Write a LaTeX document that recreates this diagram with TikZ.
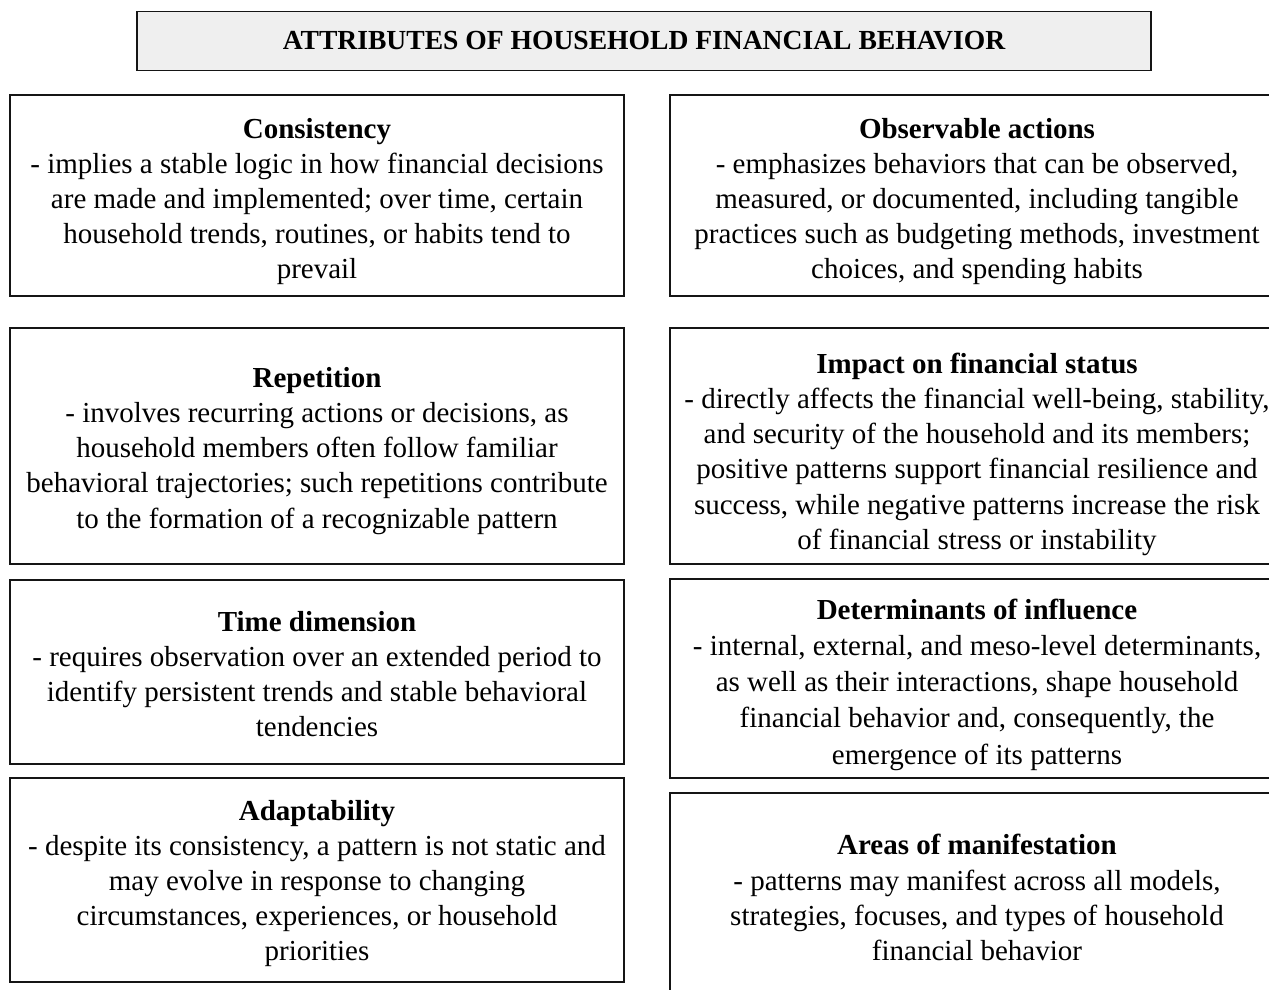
\documentclass[tikz,border=0pt]{standalone}
\usepackage{fontspec}
\setmainfont{Liberation Serif}
\usepackage{xcolor}
\definecolor{FrameBlack}{HTML}{151515}
\definecolor{HeadGray}{HTML}{EFEFEF}
\newlength{\pxu}
\setlength{\pxu}{0.02cm}
% bold heading line of a box, with a taller strut so the text sits a bit lower
\newcommand{\attrhead}[2][18.5pt]{\rule{0pt}{#1}\textbf{#2}}
\tikzset{
  headbox/.style={draw=FrameBlack,fill=HeadGray,line width=1.1pt,align=center,
    minimum width=1014\pxu,minimum height=59\pxu,
    font=\fontsize{15.7}{19}\selectfont\bfseries},
  attrbox/.style={draw=FrameBlack,line width=1.1pt,align=center,inner sep=0pt,
    minimum width=614\pxu,font=\fontsize{16.5}{20}\selectfont}
}

\begin{document}
\begin{tikzpicture}[x=1\pxu,y=-1\pxu]
  \useasboundingbox (0,0) rectangle (1269,990);
  \clip (0,0) rectangle (1269,990);
  \node[headbox] (title) at (644,41) {ATTRIBUTES OF HOUSEHOLD FINANCIAL BEHAVIOR};
  % left column
  \node[attrbox,minimum height=201\pxu] (consistency) at (317,195.5)
    {\attrhead{Consistency}\\
     - implies a stable logic in how financial decisions\\
     are made and implemented; over time, certain\\
     household trends, routines, or habits tend to\\
     prevail};
  \node[attrbox,minimum height=236\pxu] (repetition) at (317,446)
    {\attrhead[17pt]{Repetition}\\
     - involves recurring actions or decisions, as\\
     household members often follow familiar\\
     behavioral trajectories; such repetitions contribute\\
     to the formation of a recognizable pattern};
  \node[attrbox,minimum height=184\pxu] (timedim) at (317,672)
    {\attrhead[14pt]{Time dimension}\\
     - requires observation over an extended period to\\
     identify persistent trends and stable behavioral\\
     tendencies};
  \node[attrbox,minimum height=204\pxu] (adapt) at (317,880)
    {\attrhead[15.5pt]{Adaptability}\\
     - despite its consistency, a pattern is not static and\\
     may evolve in response to changing\\
     circumstances, experiences, or household\\
     priorities};
  % right column, runs past the page edge
  \node[attrbox,minimum height=201\pxu] (observable) at (977,195.5)
    {\attrhead{Observable actions}\\
     - emphasizes behaviors that can be observed,\\
     measured, or documented, including tangible\\
     practices such as budgeting methods, investment\\
     choices, and spending habits};
  \node[attrbox,minimum height=236\pxu] (impact) at (977,446)
    {\attrhead[21pt]{Impact on financial status}\\
     - directly affects the financial well-being, stability,\\
     and security of the household and its members;\\
     positive patterns support financial resilience and\\
     success, while negative patterns increase the risk\\
     of financial stress or instability};
  \node[attrbox,minimum height=199\pxu,font=\fontsize{16.5}{20.6}\selectfont]
    (determinants) at (977,678.5)
    {\attrhead{Determinants of influence}\\
     - internal, external, and meso-level determinants,\\
     as well as their interactions, shape household\\
     financial behavior and, consequently, the\\
     emergence of its patterns};
  \node[attrbox,minimum height=205\pxu] (areas) at (977,895.5)
    {\attrhead[14pt]{Areas of manifestation}\\
     - patterns may manifest across all models,\\
     strategies, focuses, and types of household\\
     financial behavior};
\end{tikzpicture}
\end{document}
